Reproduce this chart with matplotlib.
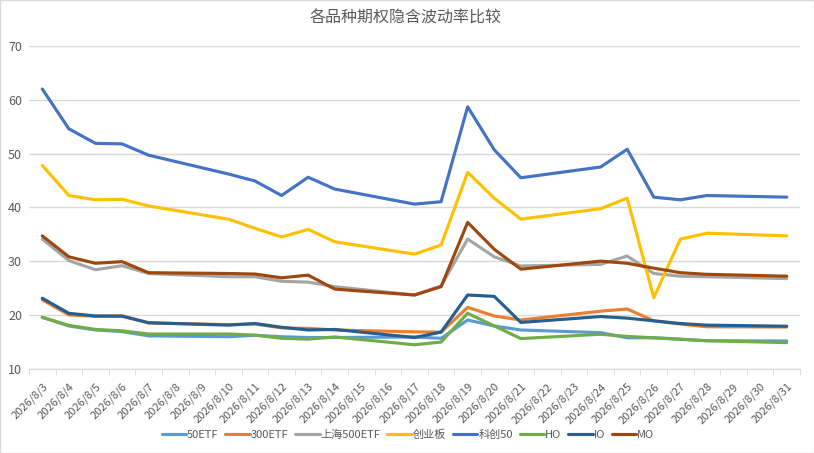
import numpy as np
import pandas as pd
import matplotlib
matplotlib.use('Agg')
import matplotlib.pyplot as plt
from matplotlib.patches import Rectangle

plt.rcParams['font.family'] = ['Noto Sans CJK SC', 'DejaVu Sans']

# dates on the category axis (weekends have no value)
dates = ['2026/8/%d' % d for d in range(3, 32)]
nan = np.nan

etf50 = [19.55, 17.95, 17.2, 16.9, 16.1, nan, nan, 15.95, 16.2, 15.95, 15.8, 15.8, nan, nan,
         15.9, 15.65, 19.05, 17.95, 17.2, nan, nan, 16.7, 15.75, 15.75, 15.5, 15.2, nan, nan, 15.15]
etf300 = [22.8, 20.0, 19.75, 19.85, 18.5, nan, nan, 18.2, 18.3, 17.6, 17.5, 17.2, nan, nan,
          16.85, 16.8, 21.4, 19.8, 19.05, nan, nan, 20.7, 21.1, 18.9, 18.3, 17.8, nan, nan, 17.75]
sh500 = [34.1, 30.1, 28.4, 29.15, 27.7, nan, nan, 27.1, 27.1, 26.25, 26.1, 25.25, nan, nan,
         23.7, 25.4, 34.1, 30.8, 29.1, nan, nan, 29.4, 30.95, 27.7, 27.2, 27.1, nan, nan, 26.75]
cyb = [47.8, 42.2, 41.4, 41.5, 40.25, nan, nan, 37.8, 36.1, 34.5, 35.9, 33.6, nan, nan,
       31.3, 33.0, 46.5, 41.7, 37.8, nan, nan, 39.75, 41.7, 23.2, 34.1, 35.2, nan, nan, 34.7]
kc50 = [62.0, 54.6, 51.9, 51.8, 49.7, nan, nan, 46.2, 44.9, 42.2, 45.6, 43.4, nan, nan,
        40.6, 41.05, 58.7, 50.7, 45.5, nan, nan, 47.5, 50.8, 41.9, 41.4, 42.2, nan, nan, 41.9]
ho = [19.55, 18.05, 17.3, 17.05, 16.45, nan, nan, 16.45, 16.25, 15.65, 15.5, 15.9, nan, nan,
      14.45, 14.95, 20.3, 17.95, 15.6, nan, nan, 16.4, 16.0, 15.75, 15.45, 15.2, nan, nan, 14.85]
io = [23.1, 20.3, 19.8, 19.75, 18.55, nan, nan, 18.1, 18.4, 17.7, 17.2, 17.3, nan, nan,
      15.8, 16.8, 23.7, 23.45, 18.6, nan, nan, 19.7, 19.4, 18.9, 18.4, 18.1, nan, nan, 17.9]
mo = [34.7, 30.8, 29.6, 29.9, 27.85, nan, nan, 27.7, 27.6, 26.9, 27.4, 24.8, nan, nan,
      23.7, 25.25, 37.2, 32.2, 28.5, nan, nan, 30.0, 29.6, 28.7, 27.85, 27.55, nan, nan, 27.2]

names = ['50ETF', '300ETF', '上海500ETF', '创业板', '科创50', 'HO', 'IO', 'MO']
colors = ['#5B9BD5', '#ED7D31', '#A5A5A5', '#FFC000', '#4472C4', '#70AD47', '#255E91', '#9E480E']

df = pd.DataFrame(dict(zip(names, [etf50, etf300, sh500, cyb, kc50, ho, io, mo])), index=dates)
x = np.arange(len(dates))

fig = plt.figure(figsize=(8.14, 4.53), dpi=100)
ax = fig.add_axes([29 / 814, 1 - 368.7 / 453, (800 - 29) / 814, (368.7 - 46) / 453])

for name, c in zip(names, colors):
    s = df[name]
    ok = s.notna().values
    ax.plot(x[ok], s.values[ok], color=c, lw=2.25, label=name,
            solid_joinstyle='round', solid_capstyle='round')

ax.set_xlim(-0.5, len(dates) - 0.5)
ax.set_ylim(10, 70)
ax.set_yticks(range(10, 71, 10))
ax.grid(axis='y', color='#D9D9D9', lw=1)
ax.set_axisbelow(True)
for sp in ['top', 'right', 'left']:
    ax.spines[sp].set_visible(False)
ax.spines['bottom'].set_color('#D9D9D9')
ax.tick_params(axis='y', length=0, labelsize=9, labelcolor='#595959', pad=5)

ax.set_xticks(x)
ax.set_xticklabels(dates, rotation=45, ha='right', rotation_mode='anchor',
                   fontsize=8, color='#595959')
ax.tick_params(axis='x', length=0, pad=9)
ax.set_xticks(np.arange(-0.5, len(dates), 1), minor=True)
ax.tick_params(axis='x', which='minor', length=4, color='#D9D9D9')

fig.suptitle('各品种期权隐含波动率比较', x=406 / 814, y=1 - 18 / 453, va='center',
             fontsize=11.5, color='#595959')

fig.legend(loc='center', bbox_to_anchor=(408 / 814, 1 - 435 / 453), ncol=8, frameon=False,
           fontsize=8, labelcolor='#595959', handlelength=2.2, handletextpad=0.1,
           columnspacing=0.6)

fig.patches.append(Rectangle((0, 0), 1, 1, transform=fig.transFigure, fill=False,
                             edgecolor='#D9D9D9', lw=1))

fig.savefig('out.png', dpi=100)
